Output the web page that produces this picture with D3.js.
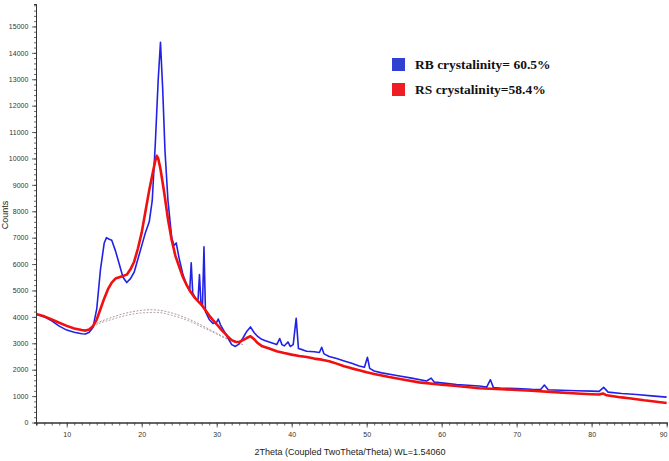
<!DOCTYPE html>
<html>
<head>
<meta charset="utf-8">
<script src="https://cdn.jsdelivr.net/npm/d3@7"></script>
<style>
  html, body { margin: 0; padding: 0; background: #fff; }
  svg { display: block; }
</style>
</head>
<body>
<svg id="chart" width="669" height="461"></svg>
<script>
// ---- Data ----
const xTicks = [10, 20, 30, 40, 50, 60, 70, 80, 90];
const yTicks = [0, 1000, 2000, 3000, 4000, 5000, 6000, 7000, 8000, 9000, 10000, 11000, 12000, 13000, 14000, 15000];

// RB sample (blue): [2theta, counts]
const rbTheta = [6,7,8,9,10,11,12,12.5,13,13.5,14,14.5,15,15.3,15.6,16,16.5,17,17.5,18,18.5,19,19.5,20,20.5,21,21.4,21.8,22.2,22.5,22.8,23.1,23.5,24,24.3,24.6,25,25.5,26,26.4,26.6,26.8,27.2,27.5,27.7,27.9,28.1,28.3,28.5,29,29.5,30,30.2,30.5,31,31.5,32,32.5,33,33.5,34,34.5,35,35.5,36,36.5,37,37.5,38,38.4,38.7,39,39.5,39.8,40.2,40.6,40.9,41.5,42,43,43.7,44,44.3,45,46,47,48,49,49.7,50.1,50.4,51,52,54,56,58,58.6,59,60,62,64,65,66,66.5,66.9,68,70,72,73.2,73.7,74.2,76,78,80,81,81.6,82.2,84,86,88,90];
const rbCounts = [4100,4000,3850,3650,3500,3420,3360,3350,3420,3600,4300,5800,6800,7000,6950,6900,6500,6000,5500,5300,5450,5700,6200,6700,7200,7600,8400,10500,13000,14400,12600,10300,8400,7000,6700,6800,6200,5600,5200,5000,6050,4900,4700,4600,5600,4500,4400,6650,4200,3900,3750,3800,3920,3700,3450,3200,2950,2880,2980,3200,3450,3620,3400,3250,3150,3100,3050,3000,2950,3180,2950,2900,3050,2880,2950,3950,2800,2750,2700,2680,2650,2850,2600,2500,2420,2330,2240,2140,2090,2470,2050,1950,1880,1780,1680,1570,1680,1530,1500,1440,1400,1380,1340,1620,1320,1300,1290,1260,1250,1420,1240,1220,1200,1190,1180,1330,1150,1100,1060,1010,960];

// RS sample (red): [2theta, counts]
const rsTheta = [6,7,8,9,10,11,12,12.5,13,13.5,14,14.5,15,15.5,16,16.5,17,17.5,18,18.5,19,19.5,20,20.5,21,21.5,21.8,22,22.2,22.5,23,23.5,24,24.5,25,25.5,26,26.5,27,27.5,28,28.5,29,29.5,30,30.5,31,31.5,32,32.5,33,33.5,34,34.5,35,35.5,36,37,38,39,40,41,42,43,44,45,46,47,48,49,50,51,52,53,55,57,60,62,65,68,70,72,75,78,80,81,81.5,82,84,85,87,90];
const rsCounts = [4100,4020,3900,3780,3660,3560,3500,3480,3520,3650,3900,4300,4700,5050,5300,5450,5500,5550,5600,5800,6100,6600,7200,8000,8800,9500,9900,10100,10000,9600,8700,7700,6900,6300,5900,5500,5200,4950,4750,4600,4450,4250,4050,3880,3720,3550,3400,3250,3120,3060,3050,3120,3200,3270,3150,3000,2900,2800,2700,2630,2570,2520,2480,2420,2380,2320,2230,2130,2050,1980,1900,1840,1780,1720,1620,1520,1430,1380,1300,1260,1230,1200,1150,1100,1070,1060,1100,1030,950,920,840,740];

// Amorphous background arcs (dashed grey)
const bg1Theta = [13.2,14,16,18,20,21,22,24,26,28,30,32,33.5];
const bg1Counts = [3600,3750,3980,4150,4250,4270,4260,4150,3950,3680,3380,3100,2950];
const bg2Theta = [13.5,14,16,18,20,22,24,26,28,30,32,33.5];
const bg2Counts = [3600,3700,3900,4060,4150,4170,4060,3880,3620,3350,3080,2950];

const legendLabels = ["RB crystalinity= 60.5%", "RS crystalinity=58.4%"];
const legendColors = ["#3040d0", "#ee1c24"];
const xTitle = "2Theta (Coupled TwoTheta/Theta) WL=1.54060";
const yTitle = "Counts";

// ---- Drawing ----
const svg = d3.select("#chart");
const x = d3.scaleLinear().domain([5.9, 90.05]).range([36, 667]);
const y = d3.scaleLinear().domain([0, 15850]).range([422.5, 4]);

const zip = (a, b) => a.map((v, i) => [v, b[i]]);
const line = d3.line().x(d => x(d[0])).y(d => y(d[1])).curve(d3.curveMonotoneX);
const lineLin = d3.line().x(d => x(d[0])).y(d => y(d[1])).curve(d3.curveLinear);

// background arcs
svg.append("path").attr("d", line(zip(bg1Theta, bg1Counts)))
  .attr("fill", "none").attr("stroke", "#a09090").attr("stroke-width", 0.9).attr("stroke-dasharray", "2,1.5");
svg.append("path").attr("d", line(zip(bg2Theta, bg2Counts)))
  .attr("fill", "none").attr("stroke", "#b09a9a").attr("stroke-width", 0.9).attr("stroke-dasharray", "2,1.5");

// blue series
svg.append("path").attr("d", lineLin(zip(rbTheta, rbCounts)))
  .attr("fill", "none").attr("stroke", "#2222e6").attr("stroke-width", 1.6).attr("stroke-linejoin", "round");
// red series
svg.append("path").attr("d", lineLin(zip(rsTheta, rsCounts)))
  .attr("fill", "none").attr("stroke", "#f01010").attr("stroke-width", 2.6).attr("stroke-linejoin", "round");

// axes
const xAxisMinor = d3.axisBottom(x).tickValues(d3.range(6, 91, 1)).tickSize(3).tickFormat("");
const xAxis = d3.axisBottom(x).tickValues(xTicks).tickSize(5).tickSizeOuter(0).tickFormat(d3.format("d"));
const yAxisMinor = d3.axisLeft(y).tickValues(d3.range(0, 15801, 200)).tickSize(2).tickFormat("");
const yAxis = d3.axisLeft(y).tickValues(yTicks).tickSize(4).tickSizeOuter(0).tickFormat(d3.format("d"));

svg.append("g").attr("transform", `translate(0,${y(0)})`).call(xAxisMinor);
const gx2 = svg.append("g").attr("transform", `translate(0,${y(0)})`).call(xAxis);
svg.append("g").attr("transform", `translate(${x(5.9)},0)`).call(yAxisMinor);
const gy2 = svg.append("g").attr("transform", `translate(${x(5.9)},0)`).call(yAxis);

svg.selectAll(".domain").attr("stroke", "#333").attr("stroke-width", 1);
svg.selectAll(".tick line").attr("stroke", "#444").attr("stroke-width", 0.8);
svg.selectAll(".tick text").attr("font-family", "Liberation Sans, Arial, sans-serif").attr("font-size", 7).attr("fill", "#333");
gx2.selectAll(".tick text").attr("dy", "0.9em");
gx2.selectAll(".tick text").filter(d => d === 90).attr("text-anchor", "end").attr("dx", "0.05em");
gy2.selectAll(".tick text").attr("dx", "-0.1em");

// axis titles
svg.append("text").attr("x", 350).attr("y", 455).attr("text-anchor", "middle")
  .attr("font-family", "Liberation Sans, Arial, sans-serif").attr("font-size", 9).attr("fill", "#222").text(xTitle);
svg.append("text").attr("transform", "translate(8,215) rotate(-90)").attr("text-anchor", "middle")
  .attr("font-family", "Liberation Sans, Arial, sans-serif").attr("font-size", 9).attr("fill", "#222").text(yTitle);

// legend
const lg = svg.append("g");
legendLabels.forEach((t, i) => {
  const yy = 58 + i * 25;
  lg.append("rect").attr("x", 392).attr("y", yy).attr("width", 13).attr("height", 13).attr("fill", legendColors[i]);
  lg.append("text").attr("x", 415).attr("y", yy + 11).attr("font-family", "Liberation Serif, Times New Roman, serif")
    .attr("font-weight", "bold").attr("font-size", 13.5).attr("fill", "#111").text(t);
});
</script>
</body>
</html>
